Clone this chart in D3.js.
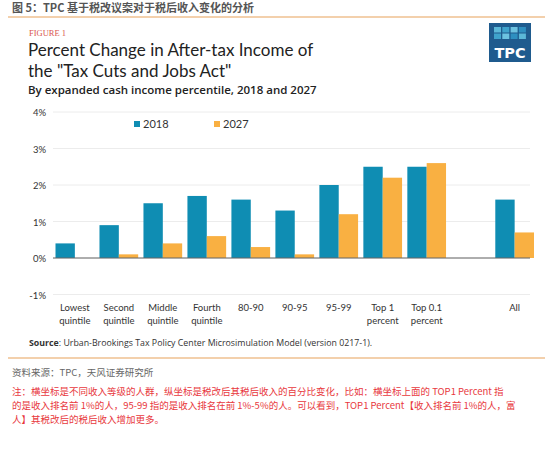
<!DOCTYPE html>
<html>
<head>
<meta charset="utf-8">
<script src="https://cdn.jsdelivr.net/npm/d3@7"></script>
<style>
  body { margin: 0; background: #fff; }
  svg { display: block; }
</style>
</head>
<body>
<svg id="chart" width="550" height="449"></svg>
<script>
// data
const categories = ["Lowest\nquintile", "Second\nquintile", "Middle\nquintile", "Fourth\nquintile",
  "80-90", "90-95", "95-99", "Top 1\npercent", "Top 0.1\npercent", "", "All"];
const years = ["2018", "2027"];
const values2018 = [0.4, 0.9, 1.5, 1.7, 1.6, 1.3, 2.0, 2.5, 2.5, null, 1.6];
const values2027 = [0.0, 0.1, 0.4, 0.6, 0.3, 0.1, 1.2, 2.2, 2.6, null, 0.7];
const yTicks = [-1, 0, 1, 2, 3, 4];

(function() {
    const svg = d3.select("#chart");
    const blue = "#0f8db3", orange = "#f9b042";
    const cjk = "'Noto Sans CJK SC', sans-serif";
    const lato = "Lato, 'Open Sans', sans-serif";
    const open = "'Open Sans', sans-serif";

    // header
    svg.append("text").attr("x", 12).attr("y", 12)
        .attr("font-family", cjk).attr("font-size", 11).attr("font-weight", "bold")
        .attr("fill", "#555").text("图 5：TPC 基于税改议案对于税后收入变化的分析");
    svg.append("line").attr("x1", 8).attr("x2", 545).attr("y1", 17).attr("y2", 17)
        .attr("stroke", "#e8a25a").attr("stroke-width", 1.2);

    svg.append("text").attr("x", 29).attr("y", 36)
        .attr("font-family", "'Liberation Serif', serif").attr("font-size", 8.5)
        .attr("fill", "#d9574e").text("FIGURE 1");
    svg.append("text").attr("x", 28).attr("y", 56)
        .attr("font-family", lato).attr("font-size", 17).attr("fill", "#222")
        .text("Percent Change in After-tax Income of");
    svg.append("text").attr("x", 28).attr("y", 77)
        .attr("font-family", lato).attr("font-size", 17).attr("fill", "#222")
        .text("the \"Tax Cuts and Jobs Act\"");
    svg.append("text").attr("x", 28).attr("y", 94)
        .attr("font-family", open).attr("font-size", 11.5).attr("font-weight", 600).attr("fill", "#222")
        .text("By expanded cash income percentile, 2018 and 2027");

    // TPC logo
    const logo = svg.append("g").attr("transform", "translate(489,23)");
    logo.append("rect").attr("width", 42).attr("height", 39).attr("fill", "#1f5b8e");
    const sq = ["#5bb8d8", "#3fa3cc", "#6cc2e0", "#2e8fc0"];
    for (let r = 0; r < 2; r++) {
        for (let c = 0; c < 4; c++) {
            logo.append("rect").attr("x", 5 + c * 8.3).attr("y", 4 + r * 6.5)
                .attr("width", 7).attr("height", 5.5).attr("fill", sq[(r + c) % 4]);
        }
    }
    logo.append("text").attr("x", 21).attr("y", 35).attr("text-anchor", "middle")
        .attr("font-family", "'DejaVu Sans', sans-serif").attr("font-weight", "bold")
        .attr("font-size", 14.5).attr("fill", "#fff").text("TPC");

    // chart
    const x0 = 53, x1 = 530;
    const x = d3.scaleBand().domain(d3.range(categories.length))
        .range([x0 + 2.5, x1 + 4]).paddingInner(0.12).paddingOuter(0);
    const xs = d3.scaleBand().domain(years).range([0, x.bandwidth()]);
    const y = d3.scaleLinear().domain([-1, 4]).range([294.5, 112]);

    const g = svg.append("g");
    g.selectAll("line.grid").data(yTicks).join("line")
        .attr("x1", x0).attr("x2", x1)
        .attr("y1", d => y(d)).attr("y2", d => y(d))
        .attr("stroke", "#ececec").attr("stroke-width", 1);
    g.selectAll("text.tick").data(yTicks).join("text")
        .attr("x", 46).attr("y", d => y(d) + 4).attr("text-anchor", "end")
        .attr("font-family", lato).attr("font-size", 9.5).attr("fill", "#333")
        .text(d => d + "%");

    const rows = categories.map((c, i) => ({ i, v: [values2018[i], values2027[i]] }));
    const grp = g.selectAll("g.cat").data(rows).join("g")
        .attr("transform", d => `translate(${x(d.i)},0)`);
    grp.selectAll("rect").data(d => years.map((yr, k) => ({ yr, v: d.v[k] })).filter(e => e.v != null))
        .join("rect")
        .attr("x", e => xs(e.yr))
        .attr("width", xs.bandwidth())
        .attr("y", e => y(Math.max(0, e.v)))
        .attr("height", e => Math.abs(y(e.v) - y(0)))
        .attr("fill", e => e.yr === "2018" ? blue : orange);

    g.append("line").attr("x1", x0).attr("x2", x1).attr("y1", y(0)).attr("y2", y(0))
        .attr("stroke", "#666").attr("stroke-width", 1.2);

    // category labels
    const lab = g.selectAll("text.cat").data(rows).join("text")
        .attr("text-anchor", "middle")
        .attr("font-family", lato).attr("font-size", 9.5).attr("fill", "#333")
        .attr("transform", d => `translate(${x(d.i) + x.bandwidth() / 2},311)`);
    lab.selectAll("tspan").data(d => categories[d.i].split("\n")).join("tspan")
        .attr("x", 0).attr("dy", (t, k) => k === 0 ? 0 : 12.5).text(t => t);

    // legend
    const leg = g.selectAll("g.leg").data(years).join("g")
        .attr("transform", (d, k) => `translate(${134 + k * 80},126)`);
    leg.append("rect").attr("y", -5).attr("width", 6).attr("height", 6)
        .attr("fill", d => d === "2018" ? blue : orange);
    leg.append("text").attr("x", 9).attr("y", 1.5)
        .attr("font-family", lato).attr("font-size", 11).attr("fill", "#333").text(d => d);

    // source
    const src = svg.append("text").attr("x", 29).attr("y", 346)
        .attr("font-family", open).attr("font-size", 8.8).attr("fill", "#333");
    src.append("tspan").attr("font-weight", "bold").text("Source");
    src.append("tspan").text(": Urban-Brookings Tax Policy Center Microsimulation Model (version 0217-1).");
    svg.append("line").attr("x1", 8).attr("x2", 545).attr("y1", 358).attr("y2", 358)
        .attr("stroke", "#e8a25a").attr("stroke-width", 1.2);

    svg.append("text").attr("x", 12).attr("y", 375.5)
        .attr("font-family", cjk).attr("font-size", 9.5).attr("fill", "#666")
        .text("资料来源：TPC，天风证券研究所");

    const notes = [
        "注：横坐标是不同收入等级的人群，纵坐标是税改后其税后收入的百分比变化，比如：横坐标上面的 TOP1 Percent 指",
        "的是收入排名前 1%的人，95-99 指的是收入排名在前 1%-5%的人。可以看到，TOP1 Percent【收入排名前 1%的人，富",
        "人】其税改后的税后收入增加更多。"
    ];
    svg.selectAll("text.note").data(notes).join("text")
        .attr("x", 12).attr("y", (d, k) => 394.5 + k * 14.2)
        .attr("font-family", cjk).attr("font-size", 9.5).attr("fill", "#e8383d")
        .text(d => d);
})()
</script>
</body>
</html>
